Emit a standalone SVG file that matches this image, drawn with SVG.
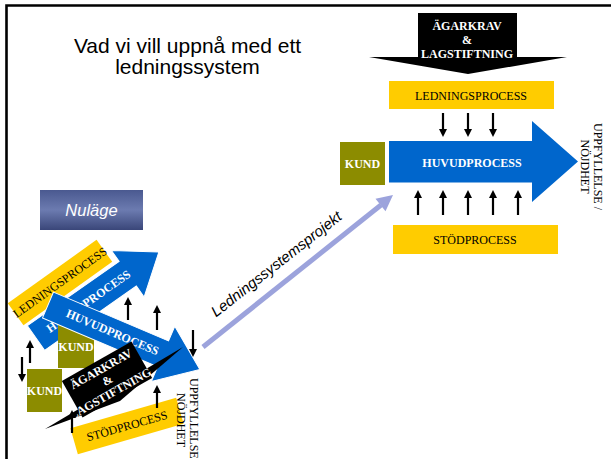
<svg xmlns="http://www.w3.org/2000/svg" width="611" height="459" viewBox="0 0 611 459">
<defs>
<style>
.s{font-family:"Liberation Serif","Times New Roman",serif;font-size:12px;fill:#000}
.w{font-weight:bold;fill:#fff}
.sans{font-family:"Liberation Sans",Arial,Helvetica,sans-serif}
.yel{fill:#FFCC00}
.blue{fill:#0066CC}
.bl2{fill:#0066CC;stroke:#fff;stroke-width:1}
.kund{fill:#8C8C00}
.arr{stroke:#000;stroke-width:2.2;fill:none;marker-end:url(#ah)}
</style>
<marker id="ah" markerUnits="userSpaceOnUse" markerWidth="8" markerHeight="8" refX="5" refY="4" orient="auto" viewBox="0 0 8 8"><path d="M0,0 L8,4 L0,8z" fill="#000"/></marker>
<linearGradient id="nul" x1="0" y1="0" x2="0" y2="1">
<stop offset="0" stop-color="#4a5990"/>
<stop offset="0.5" stop-color="#6c7bb0"/>
<stop offset="1" stop-color="#3a4679"/>
</linearGradient>
</defs>
<rect width="611" height="459" fill="#fff"/>
<path d="M6.5,459 V5.5 H611" fill="none" stroke="#000" stroke-width="2.6"/>

<g id="title">
<text class="sans" x="187.5" y="52.5" font-size="21" text-anchor="middle">Vad vi vill uppnå med ett</text>
<text class="sans" x="187.5" y="74" font-size="21" text-anchor="middle">ledningssystem</text>
</g>

<!-- right side -->
<g id="agarkrav-right">
<polygon points="418,13 517,13 517,57 567,57 468,74 369,57 418,57" fill="#000"/>
<text class="s w" x="467" y="30" font-size="11.6" text-anchor="middle">ÄGARKRAV</text>
<text class="s w" x="467" y="44" font-size="11.6" text-anchor="middle">&amp;</text>
<text class="s w" x="467" y="58" font-size="11.6" text-anchor="middle">LAGSTIFTNING</text>
</g>
<g id="ledningsprocess-right">
<rect class="yel" x="389" y="81" width="165" height="28"/>
<text class="s" x="471" y="99.5" text-anchor="middle">LEDNINGSPROCESS</text>
</g>
<g id="huvudprocess-right">
<polygon class="blue" points="389,141 532,141 532,121 578,161.5 532,202 532,182.5 389,182.5"/>
<text class="s w" x="472" y="166.5" text-anchor="middle">HUVUDPROCESS</text>
</g>
<g id="kund-right">
<rect class="kund" x="340" y="142" width="45" height="43"/>
<text class="s w" x="362.5" y="167.5" text-anchor="middle">KUND</text>
</g>
<g id="stodprocess-right">
<rect class="yel" x="393" y="225" width="165" height="29"/>
<text class="s" x="475" y="244" text-anchor="middle">STÖDPROCESS</text>
</g>
<g id="uppfyllelse-right">
<text class="s" transform="translate(594,166.5) rotate(90)" text-anchor="middle">UPPFYLLELSE /</text>
<text class="s" transform="translate(580.5,166.5) rotate(90)" text-anchor="middle">NÖJDHET</text>
</g>

<g id="nulage">
<rect x="40" y="190" width="103" height="40" fill="url(#nul)"/>
<text class="sans" x="91.5" y="215.5" font-size="16.5" font-style="italic" fill="#fff" text-anchor="middle">Nuläge</text>
</g>

<!-- left collage -->
<g id="huvudprocess-left-1" transform="translate(36,338) rotate(-35)">
<polygon class="bl2" points="0,-15 112,-15 112,-28.5 150,0 112,28.5 112,15 0,15"/>
<text class="s w" x="64" y="4" text-anchor="middle">HUVUDPROCESS</text>
</g>
<g id="ledningsprocess-left" transform="translate(60,282.5) rotate(-35.5)">
<rect class="yel" x="-54.5" y="-13.5" width="109" height="27"/>
<text class="s" x="0" y="4" text-anchor="middle">LEDNINGSPROCESS</text>
</g>
<g id="kund-left-1">
<rect class="kund" x="58" y="318" width="36" height="50"/>
<text class="s w" x="76" y="351" text-anchor="middle">KUND</text>
</g>
<g id="kund-left-2">
<rect class="kund" x="27" y="369" width="35" height="43"/>
<text class="s w" x="44.5" y="395" text-anchor="middle">KUND</text>
</g>
<g id="huvudprocess-left-2" transform="translate(48,305) rotate(23)">
<polygon class="bl2" points="0,-14 125,-14 125,-30 165,0 125,30 125,14 0,14"/>
<text class="s w" x="70" y="4" text-anchor="middle">HUVUDPROCESS</text>
</g>
<g id="agarkrav-left">
<polygon points="45,429 183,347 120,401" fill="#000"/>
<g transform="translate(107,379.5) rotate(-29.5)">
<rect x="-40" y="-21" width="80" height="42" fill="#000"/>
<text class="s w" x="0" y="-8" font-size="11.5" text-anchor="middle">ÄGARKRAV</text>
<text class="s w" x="0" y="5" font-size="11.5" text-anchor="middle">&amp;</text>
<text class="s w" x="-4" y="18" font-size="11.5" text-anchor="middle">LAGSTIFTNING</text>
</g>
</g>
<g id="stodprocess-left" transform="translate(127,426) rotate(-16)">
<rect class="yel" x="-55" y="-13.5" width="110" height="27"/>
<text class="s" x="0" y="4" text-anchor="middle">STÖDPROCESS</text>
</g>
<g id="uppfyllelse-left">
<text class="s" font-size="11" transform="translate(190,378) rotate(90)">UPPFYLLELSE</text>
<text class="s" font-size="11" transform="translate(176.5,393) rotate(90)">NÖJDHET</text>
</g>

<g id="connectors">
<line class="arr" x1="443" y1="113" x2="443" y2="134"/>
<line class="arr" x1="468" y1="113" x2="468" y2="134"/>
<line class="arr" x1="493" y1="113" x2="493" y2="134"/>
<line class="arr" x1="418" y1="215" x2="418" y2="193"/>
<line class="arr" x1="443" y1="215" x2="443" y2="193"/>
<line class="arr" x1="468" y1="215" x2="468" y2="193"/>
<line class="arr" x1="493" y1="215" x2="493" y2="193"/>
<line class="arr" x1="518" y1="215" x2="518" y2="193"/>
<line class="arr" x1="30" y1="363" x2="30" y2="343"/>
<line class="arr" x1="22" y1="357" x2="22" y2="379"/>
<line class="arr" x1="128" y1="320" x2="128" y2="300"/>
<line class="arr" x1="157" y1="330" x2="157" y2="308"/>
<line class="arr" x1="193" y1="330" x2="193" y2="354"/>
<line class="arr" x1="157" y1="408" x2="157" y2="388"/>
<line class="arr" x1="72" y1="433" x2="72" y2="413"/>
<line x1="203" y1="347" x2="381" y2="205" stroke="#9CA3DC" stroke-width="5"/>
<polygon points="393,195 385.5,211.2 375.5,198.8" fill="#9CA3DC"/>
<text class="sans" font-size="15" font-style="italic" text-anchor="middle" transform="translate(279.5,268) rotate(-38)">Ledningssystemsprojekt</text>
</g>
</svg>
